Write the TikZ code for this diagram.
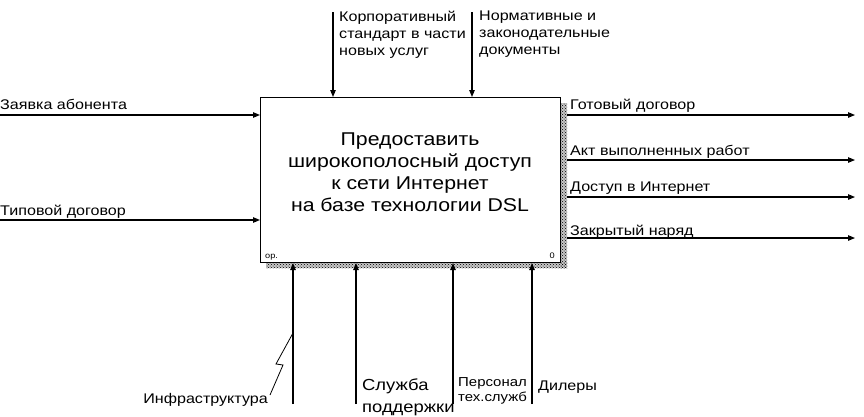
\documentclass[tikz,border=0pt]{standalone}
\usepackage{fontspec}
\setmainfont{Liberation Sans}[FakeStretch=1.15]
\usetikzlibrary{arrows.meta,patterns}
\begin{document}
\begin{tikzpicture}[x=1pt,y=-1pt,
  arr/.style={draw=black, line width=1.1pt, -{Triangle[length=7pt,width=5.5pt]}},
  lbl/.style={font=\fontsize{14}{17}\selectfont, inner sep=0pt, align=left},
  boxlbl/.style={font=\fontsize{18.5}{22}\selectfont, inner sep=0pt, align=center},
  tiny/.style={font=\fontsize{8}{9}\selectfont, inner sep=0pt},
  shadowbg/.style={fill=gray!45},
  shadow/.style={pattern=crosshatch dots, pattern color=black}]
\fill[white] (0,0) rectangle (864,416);
\useasboundingbox (0,0) rectangle (864,416);
% shadow
\fill[shadowbg] (560,103) rectangle (567,268);
\fill[shadowbg] (266,262) rectangle (567,268);
\fill[shadow] (560,103) rectangle (567,268);
\fill[shadow] (266,262) rectangle (567,268);
% box
\node[draw, fill=white, line width=1.1pt, minimum width=300pt, minimum height=165pt, anchor=north west, inner sep=0pt] (box) at (260,97) {};
\node[boxlbl] (title) at (410,172) {Предоставить\\широкополосный доступ\\к сети Интернет\\на базе технологии DSL};
\node[tiny, anchor=base west] (op) at (265,258) {ор.};
\node[tiny, anchor=base east] (zero) at (555,258) {0};
% top controls
\coordinate (t1) at (333,12);
\coordinate (t2) at (472,12);
\draw[arr] (t1) -- (t1 |- box.north);
\draw[arr] (t2) -- (t2 |- box.north);
\node[lbl, anchor=north west] (lt1) at (339,11) {Корпоративный\\стандарт в части\\новых услуг};
\node[lbl, anchor=north west] (lt2) at (479,11) {Нормативные и\\законодательные\\документы};
% left inputs
\coordinate (l1) at (0,115);
\coordinate (l2) at (0,220);
\draw[arr] (l1) -- (l1 -| box.west);
\draw[arr] (l2) -- (l2 -| box.west);
\node[lbl, anchor=base west] (ll1) at (0,109) {Заявка абонента};
\node[lbl, anchor=base west] (ll2) at (0,215) {Типовой договор};
% right outputs
\coordinate (r1) at (855,115);
\coordinate (r2) at (855,160);
\coordinate (r3) at (855,197);
\coordinate (r4) at (855,238);
\draw[arr] ([xshift=6pt]r1 -| box.east) -- (r1);
\draw[arr] ([xshift=6pt]r2 -| box.east) -- (r2);
\draw[arr] ([xshift=6pt]r3 -| box.east) -- (r3);
\draw[arr] ([xshift=6pt]r4 -| box.east) -- (r4);
\node[lbl, anchor=base west] (lr1) at (570,109) {Готовый договор};
\node[lbl, anchor=base west] (lr2) at (570,155) {Акт выполненных работ};
\node[lbl, anchor=base west] (lr3) at (570,191) {Доступ в Интернет};
\node[lbl, anchor=base west] (lr4) at (570,235) {Закрытый наряд};
% bottom mechanisms
\coordinate (b1) at (293,404);
\coordinate (b2) at (356,404);
\coordinate (b3) at (453,404);
\coordinate (b4) at (532,404);
\draw[arr] (b1) -- (b1 |- box.south);
\draw[arr] (b2) -- (b2 |- box.south);
\draw[arr] (b3) -- (b3 |- box.south);
\draw[arr] (b4) -- (b4 |- box.south);
\node[lbl, anchor=base east] (lb1) at (268,403) {Инфраструктура};
\coordinate (z0) at (270,395);
\draw[line width=0.8pt] (z0) -- (283,365) -- (276,364) -- (293,333);
\node[lbl, font=\fontsize{16}{22}\selectfont, anchor=base west] (lb2) at (362,412) {Служба\\поддержки};
\node[lbl, font=\fontsize{13}{15}\selectfont, anchor=base west] (lb3) at (458,401) {Персонал\\тех.служб};
\node[lbl, anchor=base west] (lb4) at (538,390) {Дилеры};
\end{tikzpicture}
\end{document}
